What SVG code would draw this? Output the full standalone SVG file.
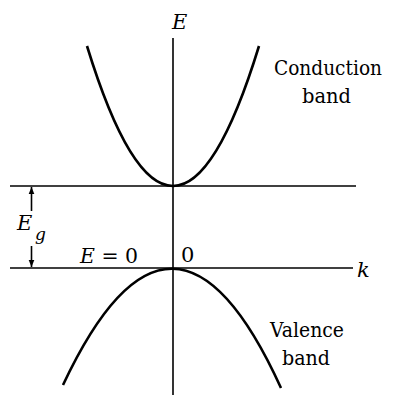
<svg xmlns="http://www.w3.org/2000/svg" width="396" height="397" viewBox="0 0 396 397">
<style>
.ax{stroke:#000;stroke-width:1.6;fill:none}
.cv{stroke:#000;stroke-width:2.6;fill:none}
text{font-family:'DejaVu Serif',serif;fill:#000}
.it{font-style:italic}
</style>
<defs>
<marker id="ah" viewBox="0 0 10 10" refX="10" refY="5" markerWidth="7" markerHeight="11" markerUnits="userSpaceOnUse" orient="auto">
<path d="M0,1 L10,5 L0,9 Z" fill="#000"/>
</marker>
</defs>
<rect width="396" height="397" fill="#fff"/>
<g id="connectors">
<line class="ax" x1="173" y1="38" x2="173" y2="395"/>
<line class="ax" x1="10" y1="186" x2="356" y2="186"/>
<line class="ax" x1="10" y1="268" x2="353" y2="268"/>
<line class="ax" x1="31.5" y1="211" x2="31.5" y2="187" marker-end="url(#ah)"/>
<line class="ax" x1="31.5" y1="246" x2="31.5" y2="267" marker-end="url(#ah)"/>
</g>
<g id="conduction-band">
<path class="cv" d="M87,46 Q173,326 259,46"/>
<text x="274" y="75" font-size="20" textLength="108" lengthAdjust="spacingAndGlyphs">Conduction</text>
<text x="302" y="103" font-size="21" textLength="49" lengthAdjust="spacingAndGlyphs">band</text>
</g>
<g id="valence-band">
<path class="cv" d="M63,385 Q173,151 281,388"/>
<text x="270" y="337" font-size="21" textLength="74" lengthAdjust="spacingAndGlyphs">Valence</text>
<text x="282" y="365" font-size="21" textLength="48" lengthAdjust="spacingAndGlyphs">band</text>
</g>
<g id="labels">
<text class="it" x="172" y="29" font-size="21">E</text>
<text class="it" x="17" y="230" font-size="21">E</text>
<text class="it" x="35" y="240" font-size="17">g</text>
<text x="80" y="263" font-size="21" textLength="58" lengthAdjust="spacingAndGlyphs"><tspan class="it">E</tspan> = 0</text>
<text x="181" y="262" font-size="21">0</text>
<text class="it" x="357" y="277" font-size="21">k</text>
</g>
</svg>
